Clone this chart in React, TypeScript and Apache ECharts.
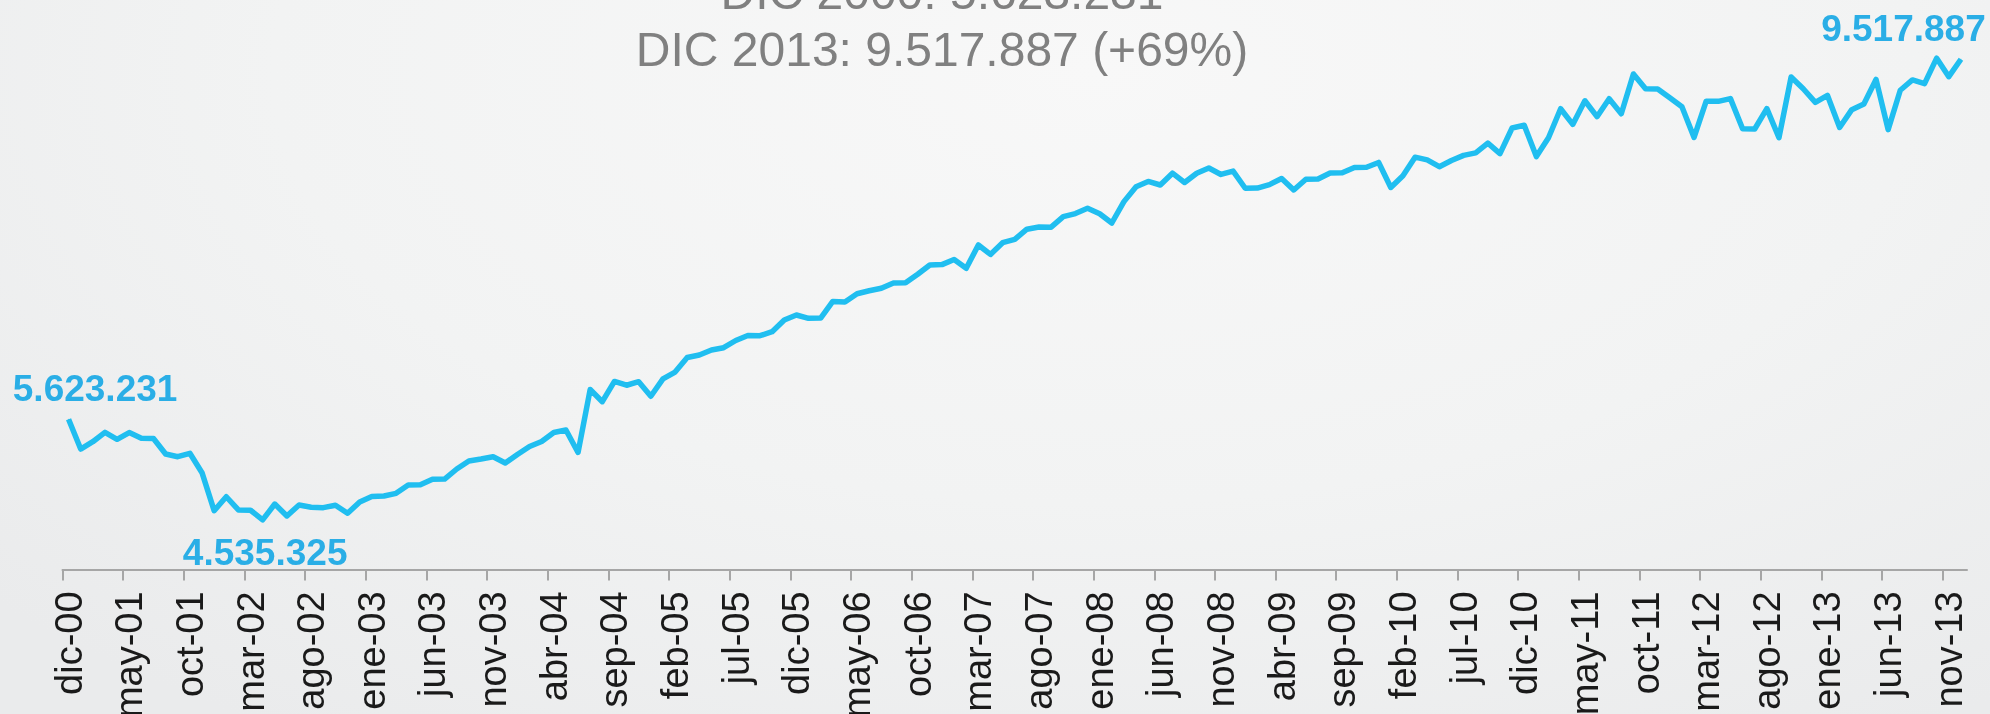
import React, { useEffect, useRef } from "react";
import * as echarts from "echarts";

// Spanish month abbreviations used on the category axis
const monthNames = ["ene", "feb", "mar", "abr", "may", "jun", "jul", "ago", "sep", "oct", "nov", "dic"];
const startYear = 2000;
const startMonth = 11; // dic-00

// Monthly values, dic-00 .. dic-13
const afiliados = [
  5623231, 5302000, 5381000, 5483000, 5407000, 5480000, 5418000, 5416000, 5248000, 5219000,
  5256000, 5046000, 4635000, 4786000, 4643000, 4640000, 4535325, 4707000, 4578000, 4697000,
  4672000, 4668000, 4694000, 4607000, 4729000, 4789000, 4794000, 4823000, 4913000, 4916000,
  4975000, 4977000, 5086000, 5173000, 5194000, 5219000, 5151000, 5243000, 5330000, 5384000,
  5481000, 5508000, 5265000, 5946000, 5814000, 6033000, 5992000, 6030000, 5873000, 6060000,
  6135000, 6292000, 6319000, 6373000, 6398000, 6476000, 6530000, 6528000, 6571000, 6698000,
  6752000, 6716000, 6718000, 6898000, 6893000, 6982000, 7014000, 7041000, 7098000, 7100000,
  7193000, 7293000, 7297000, 7352000, 7257000, 7509000, 7407000, 7534000, 7569000, 7680000,
  7704000, 7702000, 7815000, 7849000, 7906000, 7847000, 7747000, 7978000, 8140000, 8196000,
  8158000, 8286000, 8185000, 8285000, 8342000, 8272000, 8308000, 8123000, 8125000, 8162000,
  8229000, 8104000, 8220000, 8222000, 8288000, 8290000, 8348000, 8350000, 8402000, 8131000,
  8258000, 8459000, 8429000, 8356000, 8423000, 8478000, 8505000, 8610000, 8497000, 8775000,
  8804000, 8465000, 8669000, 8983000, 8813000, 9069000, 8897000, 9091000, 8929000, 9359000,
  9199000, 9197000, 9102000, 9005000, 8672000, 9065000, 9063000, 9092000, 8766000, 8764000,
  8984000, 8669000, 9327000, 9199000, 9051000, 9127000, 8780000, 8973000, 9035000, 9300000,
  8757000, 9183000, 9294000, 9254000, 9530000, 9330000, 9517887,
];

const yMin = 4000000;
const yMax = 10000000;

const categories: string[] = afiliados.map((_, i) => {
  const m = startMonth + i;
  const yy = (startYear + Math.floor(m / 12)) % 100;
  return `${monthNames[m % 12]}-${String(yy).padStart(2, "0")}`;
});

// category boundaries (one more than categories), used only for the tick marks
const boundaries: string[] = [...categories, ""];

const fmt = (v: number) => String(v).replace(/\B(?=(\d{3})+(?!\d))/g, ".");

const FONT = "'Liberation Sans', Arial, Helvetica, sans-serif";
const LINE_COLOR = "#20bef0";
const LABEL_COLOR = "#2aaee6";
const AXIS_COLOR = "#a6a6a6";

export default function App() {
  const ref = useRef<HTMLDivElement>(null);

  useEffect(() => {
    if (!ref.current) return;
    const chart = echarts.init(ref.current, null, { renderer: "svg" });

    const firstIdx = 0;
    const lastIdx = afiliados.length - 1;
    let minIdx = 0;
    afiliados.forEach((v, i) => {
      if (v < afiliados[minIdx]) minIdx = i;
    });

    const labelStyle = {
      show: true,
      color: LABEL_COLOR,
      fontFamily: FONT,
      fontWeight: "bold",
      fontSize: 37,
      align: "center",
      verticalAlign: "middle",
      formatter: (p: any) => fmt(p.value),
    };

    const data = afiliados.map((v, i) => {
      if (i === firstIdx) return { value: v, label: { ...labelStyle, position: [27, -30] } };
      if (i === minIdx) return { value: v, label: { ...labelStyle, position: [3, 33] } };
      if (i === lastIdx) return { value: v, label: { ...labelStyle, position: [-57, -30] } };
      return v;
    });

    const first = afiliados[firstIdx];
    const last = afiliados[lastIdx];
    const pct = Math.round((last / first - 1) * 100);
    const line1 = `DIC ${startYear}: ${fmt(first)}`;
    const line2 = `DIC ${startYear + Math.floor((startMonth + lastIdx) / 12)}: ${fmt(last)} (+${pct}%)`;

    chart.setOption({
      animation: false,
      backgroundColor: "transparent",
      grid: { left: 62.5, right: 23, top: 14.7, bottom: 144.6, containLabel: false, outerBoundsMode: "none" },
      graphic: [
        {
          type: "text",
          x: 942,
          y: -7.7,
          style: { text: line1, fill: "#808080", fontSize: 48, fontFamily: FONT, align: "center", verticalAlign: "middle" },
        },
        {
          type: "text",
          x: 942,
          y: 49.7,
          style: { text: line2, fill: "#808080", fontSize: 48, fontFamily: FONT, align: "center", verticalAlign: "middle" },
        },
      ],
      xAxis: [
        {
          type: "category",
          data: categories,
          position: "bottom",
          boundaryGap: true,
          axisLine: { show: true, lineStyle: { color: AXIS_COLOR, width: 2 } },
          axisTick: { show: false },
          axisLabel: {
            interval: 4,
            rotate: 90,
            margin: 22,
            color: "#1a1a1a",
            fontSize: 38,
            fontFamily: FONT,
          },
          splitLine: { show: false },
        },
        {
          type: "category",
          data: boundaries,
          position: "bottom",
          boundaryGap: false,
          axisLine: { show: false },
          axisTick: { show: true, interval: 4, length: 11, lineStyle: { color: AXIS_COLOR, width: 2 } },
          axisLabel: { show: false },
          splitLine: { show: false },
        },
      ],
      yAxis: {
        type: "value",
        min: yMin,
        max: yMax,
        show: false,
        splitLine: { show: false },
      },
      series: [
        {
          type: "line",
          xAxisIndex: 0,
          data,
          symbol: "circle",
          symbolSize: 1,
          showSymbol: true,
          showAllSymbol: true,
          lineStyle: { color: LINE_COLOR, width: 5.5, join: "round" },
          itemStyle: { color: LINE_COLOR },
          label: { show: false },
          labelLayout: { hideOverlap: false },
        },
      ],
    });

    return () => chart.dispose();
  }, []);

  return (
    <div
      style={{
        position: "fixed",
        left: 0,
        top: 0,
        width: 1990,
        height: 714,
        overflow: "hidden",
        background: "radial-gradient(ellipse 75% 110% at 55% 10%, #f8f8f8 0%, #f2f3f3 55%, #eaebec 100%)",
      }}
    >
      <div ref={ref} style={{ width: 1990, height: 714 }} />
    </div>
  );
}
